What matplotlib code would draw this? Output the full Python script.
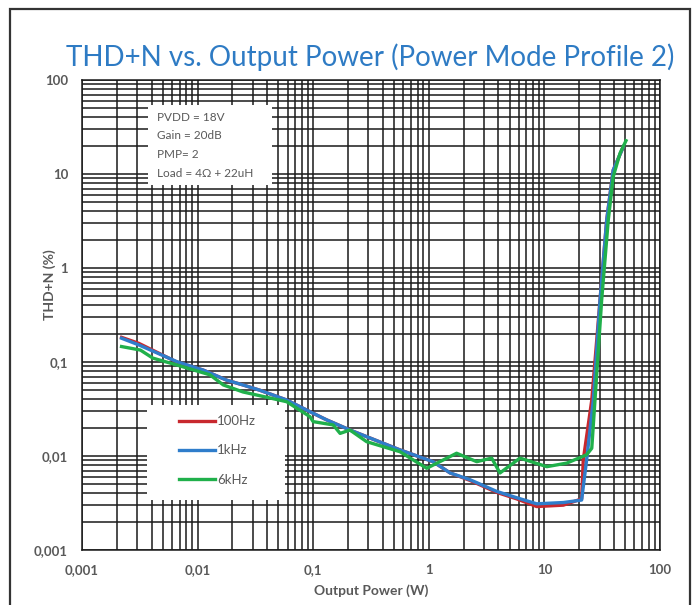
import numpy as np
import matplotlib
matplotlib.use("Agg")
import matplotlib.pyplot as plt
from matplotlib.patches import Rectangle

# values (W, %)
p_100hz = [0.0022, 0.0031, 0.0066, 0.0112, 0.0179, 0.0247, 0.0347, 0.059, 0.0938, 0.131,
           0.208, 0.564, 1.09, 1.53, 2.27, 3.87, 5.76, 8.58, 14.6, 21.0, 21.7, 25.7,
           30.3, 34.6, 39.4, 48.2]
thd_100hz = [0.183, 0.158, 0.100, 0.082, 0.064, 0.057, 0.050, 0.0394, 0.0296, 0.0242,
             0.0189, 0.0116, 0.0087, 0.0066, 0.0055, 0.0041, 0.0035, 0.0029, 0.0030, 0.0035,
             0.0091, 0.0394, 0.457, 3.24, 11.0, 19.5]

p_1khz = [0.0022, 0.0031, 0.0066, 0.0112, 0.0179, 0.0247, 0.0347, 0.059, 0.0938, 0.131,
          0.208, 0.564, 1.09, 1.53, 2.27, 3.87, 5.76, 8.58, 14.6, 21.0, 23.2, 26.5,
          30.3, 34.6, 39.4, 48.2]
thd_1khz = [0.179, 0.152, 0.101, 0.082, 0.064, 0.057, 0.050, 0.0394, 0.0296, 0.0242,
            0.0189, 0.0116, 0.0087, 0.0066, 0.0056, 0.0042, 0.0036, 0.0031, 0.0032, 0.0034,
            0.0091, 0.0394, 0.457, 3.24, 11.0, 19.5]

p_6khz = [0.0022, 0.0032, 0.0041, 0.0066, 0.0128, 0.0167, 0.0247, 0.059, 0.0938, 0.1,
          0.122, 0.149, 0.171, 0.208, 0.29, 0.564, 0.96, 1.74, 2.6, 3.5, 4.13, 6.15,
          10.5, 15.6, 23.2, 25.7, 27.4, 31.3, 35.7, 39.4, 45.1, 50.8]
thd_6khz = [0.146, 0.134, 0.110, 0.093, 0.073, 0.057, 0.048, 0.0378, 0.0262, 0.0232,
            0.0223, 0.0214, 0.0174, 0.0189, 0.0142, 0.0111, 0.0074, 0.0107, 0.0087, 0.0095,
            0.0066, 0.0095, 0.0077, 0.0084, 0.0103, 0.0121, 0.0394, 0.457, 3.24, 9.36,
            16.6, 22.6]

decades = [0.001, 0.01, 0.1, 1, 10, 100]
decade_labels = ["0,001", "0,01", "0,1", "1", "10", "100"]
notes = ["PVDD = 18V", "Gain = 20dB", "PMP= 2", "Load = 4\u03a9 + 22uH"]

gray = "#595959"
plt.rcParams["font.family"] = ["Lato", "DejaVu Sans"]

fig = plt.figure(figsize=(6.97, 6.05), dpi=100)
fig.patches.append(Rectangle((0.0145, -0.1), 0.976, 1.085, transform=fig.transFigure,
                             fill=False, edgecolor="#333333", linewidth=1.6))

ax = fig.add_axes([0.1176, 0.0909, 0.8293, 0.7769])
ax.set_xscale("log")
ax.set_yscale("log")
ax.set_xlim(0.001, 100)
ax.set_ylim(0.001, 100)

ax.grid(True, which="both", color="#1a1a1a", linewidth=1.1)
ax.set_axisbelow(True)
ax.tick_params(which="both", length=0, labelsize=9.5, labelcolor=gray, pad=10)
ax.set_xticks(decades, decade_labels, fontweight="bold")
ax.set_yticks(decades, decade_labels, fontweight="bold")
ax.minorticks_on()
ax.tick_params(which="minor", length=0, labelbottom=False, labelleft=False)
for s in ax.spines.values():
    s.set_color("#1a1a1a")
    s.set_linewidth(1.1)

ax.plot(p_100hz, thd_100hz, color="#C8282E", linewidth=2.4, label="100Hz", zorder=3)
ax.plot(p_1khz, thd_1khz, color="#2F7DCB", linewidth=2.4, label="1kHz", zorder=4)
ax.plot(p_6khz, thd_6khz, color="#20B04B", linewidth=2.4, label="6kHz", zorder=5)

# white boxes for notes and legend
ax.add_patch(Rectangle((0.114, 0.777), 0.215, 0.170, transform=ax.transAxes,
                       facecolor="white", edgecolor="none", zorder=2))
ax.add_patch(Rectangle((0.1125, 0.106), 0.2385, 0.2025, transform=ax.transAxes,
                       facecolor="white", edgecolor="none", zorder=2))

for i, t in enumerate(notes):
    ax.text(0.129, 0.921 - i * 0.040, t, transform=ax.transAxes, fontsize=8.5,
            color=gray, va="center", ha="left", zorder=6)

leg = ax.legend(loc="upper left", bbox_to_anchor=(0.148, 0.312), frameon=False,
                handlelength=2.7, handletextpad=0.15, labelspacing=1.3, fontsize=9.5,
                labelcolor=gray)
leg.set_zorder(7)

fig.text(0.531, 0.905, "THD+N vs. Output Power (Power Mode Profile 2)", fontsize=20,
         color="#2E7BC4", ha="center", va="center")
ax.set_xlabel("Output Power (W)", fontsize=10, fontweight="bold", color=gray, labelpad=6)
ax.set_ylabel("THD+N (%)", fontsize=10, fontweight="bold", color=gray)
ax.yaxis.set_label_coords(-0.045, 0.565)

fig.savefig("out.png", dpi=100)
